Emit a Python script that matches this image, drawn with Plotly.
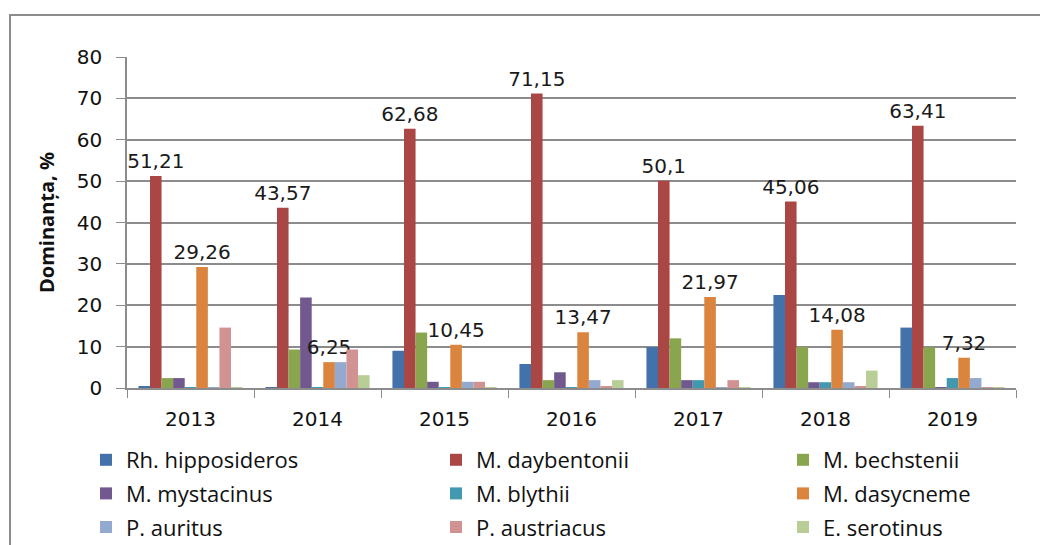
import plotly.graph_objects as go

years = ["2013", "2014", "2015", "2016", "2017", "2018", "2019"]
species = ["Rh. hipposideros", "M. daybentonii", "M. bechstenii",
           "M. mystacinus", "M. blythii", "M. dasycneme",
           "P. auritus", "P. austriacus", "E. serotinus"]

rh_hipposideros = [0.3, 0.2, 9.0, 5.8, 9.9, 22.5, 14.6]
m_daybentonii = [51.21, 43.57, 62.68, 71.15, 50.1, 45.06, 63.41]
m_bechstenii = [2.4, 9.3, 13.4, 1.9, 12.0, 9.9, 9.8]
m_mystacinus = [2.4, 21.9, 1.5, 3.8, 1.9, 1.4, 0.2]
m_blythii = [0.2, 0.2, 0.2, 0.2, 1.9, 1.4, 2.4]
m_dasycneme = [29.26, 6.25, 10.45, 13.47, 21.97, 14.08, 7.32]
p_auritus = [0.2, 6.25, 1.5, 1.9, 0.2, 1.4, 2.4]
p_austriacus = [14.6, 9.3, 1.5, 0.3, 1.9, 0.3, 0.2]
e_serotinus = [0.2, 3.1, 0.2, 1.9, 0.2, 4.2, 0.2]

series = [rh_hipposideros, m_daybentonii, m_bechstenii, m_mystacinus,
          m_blythii, m_dasycneme, p_auritus, p_austriacus, e_serotinus]
labelled = {"M. daybentonii", "M. dasycneme"}

colors = ["#4372AA", "#AA4643", "#89A54E", "#71588F", "#4198AF",
          "#DB843D", "#93A9CF", "#D19392", "#B9CD96"]
legend_of = ["legend", "legend2", "legend3"] * 3

# page offset (body margin) in the screenshot
OFF = 8
W, H = 1048, 545
# target screen pixels of plot area
SX0, SX1, SY0, SY1 = 127, 1016, 57, 388
L, T = SX0 - OFF, SY0 - OFF
R = W - (SX1 - OFF)
B = H - (SY1 - OFF)
pw, ph = W - L - R, H - T - B


def px_x(x):
    return (x - SX0) / pw


def px_y(y):
    return (SY1 - y) / ph


fig = go.Figure()
for i, (name, vals) in enumerate(zip(species, series)):
    text = None
    if name in labelled:
        text = [f"{v:g}".replace(".", ",") for v in vals]
    fig.add_trace(go.Bar(
        x=years, y=vals, name=name,
        marker=dict(color=colors[i], line=dict(width=0)),
        text=text, textposition="outside" if text else None,
        constraintext="none",
        textfont=dict(family="DejaVu Sans", size=20, color="#1a1a1a"),
        cliponaxis=False,
        legend=legend_of[i], legendgroup=name,
    ))

leg_font = dict(family="Open Sans", size=22, color="#111")
leg_common = dict(orientation="v", yanchor="top", y=px_y(439), xanchor="left",
                  font=leg_font, itemwidth=30, tracegroupgap=2,
                  bgcolor="rgba(0,0,0,0)")
fig.update_layout(
    width=W, height=H,
    margin=dict(l=L, r=R, t=T, b=B, pad=0, autoexpand=False),
    paper_bgcolor="white", plot_bgcolor="white",
    barmode="group", bargap=0.18, bargroupgap=0.0,
    showlegend=True,
    legend=dict(x=px_x(86), **leg_common),
    legend2=dict(x=px_x(436), **leg_common),
    legend3=dict(x=px_x(783), **leg_common),
    font=dict(family="DejaVu Sans", color="#111"),
)
fig.update_yaxes(
    range=[0, 80], dtick=10, showgrid=True, gridcolor="#8c8c8c", gridwidth=1.5,
    zeroline=False, showline=True, linecolor="#8c8c8c", linewidth=1.5,
    ticks="outside", ticklen=9, tickcolor="#8c8c8c", ticklabelstandoff=10,
    tickfont=dict(family="DejaVu Sans", size=20, color="#111"),
    title=dict(text="Dominanța, %", standoff=17,
               font=dict(family="Open Sans", size=20, color="#111", weight="bold")),
)
fig.update_xaxes(
    showline=True, linecolor="#8c8c8c", linewidth=1.5,
    ticks="outside", ticklen=8, tickcolor="#8c8c8c", tickson="boundaries",
    ticklabelstandoff=12,
    tickfont=dict(family="DejaVu Sans", size=20, color="#111"),
)
fig.add_shape(type="rect", xref="paper", yref="paper",
              x0=px_x(10), x1=px_x(1070), y0=px_y(570), y1=px_y(15),
              line=dict(color="#8c8c8c", width=2), fillcolor="rgba(0,0,0,0)",
              layer="below")

fig.write_html("out.html")
